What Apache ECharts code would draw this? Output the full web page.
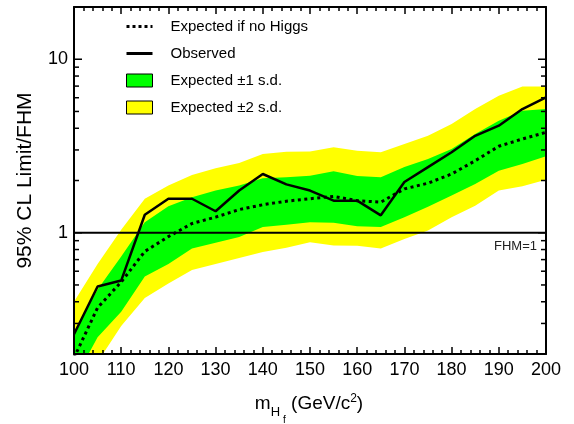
<!DOCTYPE html>
<html><head><meta charset="utf-8">
<script src="https://cdn.jsdelivr.net/npm/echarts@6/dist/echarts.min.js"></script>
<style>html,body{margin:0;padding:0;background:#fff}#c{width:574px;height:424px}</style>
</head><body><div id="c"></div>
<script>
// ---- data ----
const mass = [100,105,110,115,120,125,130,135,140,145,150,155,160,165,170,175,180,185,190,195,200];
const observed = [0.26,0.49,0.53,1.27,1.57,1.57,1.33,1.75,2.18,1.90,1.75,1.53,1.53,1.26,1.96,2.39,2.91,3.62,4.14,5.16,6.02];
const expected = [0.19,0.37,0.52,0.78,0.95,1.13,1.23,1.36,1.45,1.52,1.57,1.62,1.53,1.50,1.79,1.93,2.18,2.60,3.15,3.47,3.79];
const sigma1Lo = [0.14,0.25,0.35,0.56,0.66,0.81,0.875,0.945,1.08,1.11,1.15,1.14,1.09,1.08,1.23,1.41,1.64,1.91,2.28,2.49,2.76];
const sigma1Hi = [0.27,0.47,0.73,1.15,1.42,1.60,1.75,1.87,2.06,2.09,2.13,2.26,2.12,2.09,2.39,2.66,3.04,3.71,4.42,5.05,5.16];
const sigma2Lo = [0.10,0.18,0.29,0.42,0.51,0.61,0.66,0.715,0.775,0.82,0.88,0.845,0.84,0.81,0.92,1.03,1.23,1.43,1.75,1.85,2.02];
const sigma2Hi = [0.40,0.66,1.04,1.57,1.87,2.15,2.35,2.52,2.84,2.93,2.94,3.11,2.97,2.91,3.25,3.62,4.23,5.16,6.15,6.96,6.96];
const refLineValue = 1;
const xMin = 100, xMax = 200, xStep = 10;
const yMin = 0.2, yMax = 20;
const yLabelTicks = [1, 10];
const yMajorTicks = [1, 10];
const yMinorTicks = [0.3,0.4,0.5,0.6,0.7,0.8,0.9,2,3,4,5,6,7,8,9];
const legendNames = ['Expected if no Higgs','Observed','Expected \u00b11 s.d.','Expected \u00b12 s.d.'];

const FONT = '"Liberation Sans", Arial, Helvetica, sans-serif';
const GREEN = '#00ff00', YELLOW = '#ffff00';

function bandRenderer(lo, hi, color){
  return function(params, api){
    if (params.dataIndex !== 0) return null;
    const pts = [];
    for (let i = 0; i < mass.length; i++) pts.push(api.coord([mass[i], hi[i]]));
    for (let i = mass.length - 1; i >= 0; i--) pts.push(api.coord([mass[i], lo[i]]));
    return {type:'polygon', shape:{points:pts}, style:{fill:color}};
  };
}
function tickRenderer(params, api){
  const v = api.value(1), major = api.value(2);
  const len = major ? 8 : 5;
  const l = api.coord([xMin, v]), r = api.coord([xMax, v]);
  return {type:'group', children:[
    {type:'line', shape:{x1:l[0], y1:l[1], x2:l[0]+len, y2:l[1]}, style:{stroke:'#000', lineWidth:1.5}},
    {type:'line', shape:{x1:r[0], y1:r[1], x2:r[0]-len, y2:r[1]}, style:{stroke:'#000', lineWidth:1.5}}
  ]};
}
const tickData = yMinorTicks.map(v => [xMin, v, 0]).concat(yMajorTicks.map(v => [xMin, v, 1]));

const xAxisCommon = {
  type:'value', min:xMin, max:xMax, interval:xStep, z:10,
  axisLine:{show:true, onZero:false, lineStyle:{color:'#000', width:2}},
  axisTick:{show:true, inside:true, length:7, lineStyle:{color:'#000', width:1.5}},
  minorTick:{show:true, splitNumber:5, length:4, lineStyle:{color:'#000', width:1.5}},
  splitLine:{show:false}, minorSplitLine:{show:false}
};
const hiddenSymbol = {color:'rgba(0,0,0,0)', borderWidth:0, opacity:0};

const chart = echarts.init(document.getElementById('c'), null, {renderer:'canvas'});
chart.setOption({
  animation:false,
  backgroundColor:'#fff',
  grid:{left:74, right:28, top:7, bottom:70, containLabel:false},
  legend:{
    orient:'vertical', left:120, top:14, itemWidth:26, itemHeight:13, itemGap:12,
    textStyle:{fontFamily:FONT, fontSize:15, color:'#000', padding:[0,0,0,13]},
    data:[
      {name:legendNames[0], itemStyle:hiddenSymbol, lineStyle:{color:'#000', width:3, type:[3,3]}},
      {name:legendNames[1], itemStyle:hiddenSymbol, lineStyle:{color:'#000', width:3}},
      {name:legendNames[2], icon:'rect', itemStyle:{color:GREEN, borderColor:'#000', borderWidth:1}},
      {name:legendNames[3], icon:'rect', itemStyle:{color:YELLOW, borderColor:'#000', borderWidth:1}}
    ]
  },
  xAxis:[
    Object.assign({}, xAxisCommon, {position:'bottom',
      axisLabel:{show:true, margin:7, fontFamily:FONT, fontSize:18, color:'#000'}}),
    Object.assign({}, xAxisCommon, {position:'top', axisLabel:{show:false}})
  ],
  yAxis:[
    {type:'log', logBase:10, min:yMin, max:yMax, position:'left', z:10,
     axisLine:{show:true, onZero:false, lineStyle:{color:'#000', width:2}},
     axisTick:{show:false}, splitLine:{show:false},
     axisLabel:{show:true, margin:6, fontFamily:FONT, fontSize:18, color:'#000',
       formatter:function(v){
         for (const t of yLabelTicks) if (Math.abs(v - t) < 1e-6 * t) return String(t);
         return '';
       }},
     name:'95% CL Limit/FHM', nameLocation:'middle', nameRotate:90, nameGap:38,
     nameTextStyle:{fontFamily:FONT, fontSize:21, color:'#000'}
    },
    {type:'log', logBase:10, min:yMin, max:yMax, position:'right', z:10,
     axisLine:{show:true, onZero:false, lineStyle:{color:'#000', width:2}},
     axisTick:{show:false}, splitLine:{show:false}, axisLabel:{show:false}}
  ],
  series:[
    {name:legendNames[3], type:'custom', clip:true, z:2,
     itemStyle:{color:YELLOW},
     renderItem:bandRenderer(sigma2Lo, sigma2Hi, YELLOW),
     encode:{x:0, y:1},
     data:mass.map((m,i)=>[m, sigma2Lo[i], sigma2Hi[i]])},
    {name:legendNames[2], type:'custom', clip:true, z:2,
     itemStyle:{color:GREEN},
     renderItem:bandRenderer(sigma1Lo, sigma1Hi, GREEN),
     encode:{x:0, y:1},
     data:mass.map((m,i)=>[m, sigma1Lo[i], sigma1Hi[i]])},
    {name:'ref', type:'line', z:4, symbol:'none', silent:true,
     lineStyle:{color:'#000', width:2},
     data:[[xMin, refLineValue],[xMax, refLineValue]]},
    {name:legendNames[0], type:'line', z:5, symbol:'none', clip:true,
     itemStyle:{color:'#000'},
     lineStyle:{color:'#000', width:3, type:[3,3.5]},
     data:mass.map((m,i)=>[m, expected[i]])},
    {name:legendNames[1], type:'line', z:6, symbol:'none', clip:true,
     itemStyle:{color:'#000'},
     lineStyle:{color:'#000', width:2.5},
     data:mass.map((m,i)=>[m, observed[i]])},
    {name:'yticks', type:'custom', z:11, clip:false, silent:true,
     renderItem:tickRenderer, encode:{x:0, y:1}, data:tickData}
  ],
  graphic:[
    {type:'text', right:37, top:240, z:20, style:{text:'FHM=1', font:'13px ' + FONT, fill:'#222'}},
    {type:'text', x:309, y:392.5, z:20, style:{
      text:'{m|m}{h|H}{f|f}{g| (GeV/c}{s|2}{g|)}',
      align:'center', verticalAlign:'top', fill:'#000', fontFamily:FONT,
      rich:{
        m:{fontFamily:FONT, fontSize:19, lineHeight:19, verticalAlign:'top', padding:[1.35,0,0,0]},
        g:{fontFamily:FONT, fontSize:19, lineHeight:19, verticalAlign:'top', padding:[1.35,0,0,0]},
        h:{fontFamily:FONT, fontSize:13, lineHeight:13, verticalAlign:'top', padding:[13.45,0,0,0]},
        f:{fontFamily:FONT, fontSize:10, lineHeight:10, verticalAlign:'top', padding:[23,0,0,3]},
        s:{fontFamily:FONT, fontSize:12, lineHeight:12, verticalAlign:'top', padding:[0,0,0,0]}
      }
    }}
  ]
});
</script>
</body></html>
